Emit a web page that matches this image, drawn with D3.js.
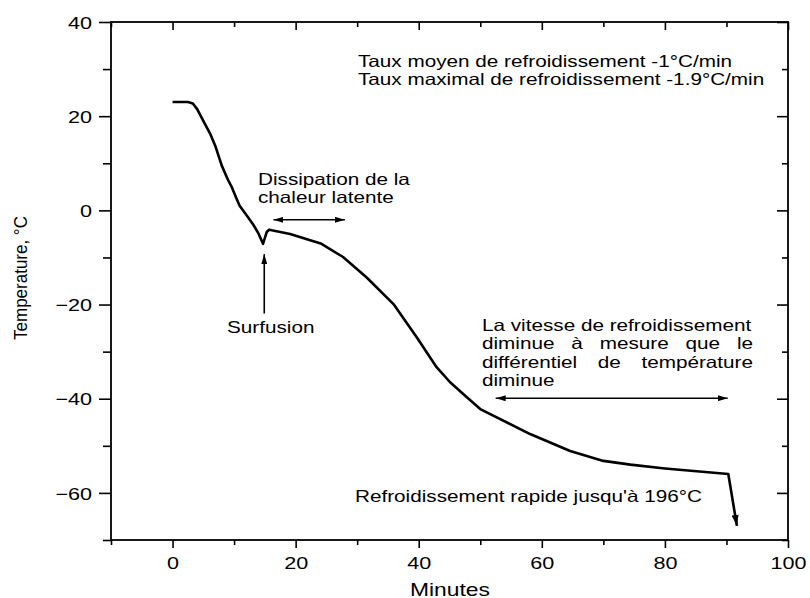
<!DOCTYPE html>
<html>
<head>
<meta charset="utf-8">
<script src="https://cdn.jsdelivr.net/npm/d3@7"></script>
<style>
  html, body { margin: 0; padding: 0; background: #fff; }
  svg { display: block; font-family: "Liberation Sans", Arial, sans-serif; }
</style>
</head>
<body>
<svg id="chart" width="810" height="598"></svg>
<script>
// ---- data ----
const minutes = [0, 2.5, 3.3, 4, 5, 6.1, 7, 8, 9, 9.6, 10.3, 10.9, 12, 13.1, 14, 14.7, 15.3, 15.7, 19.1, 24.2, 27.7, 31.5, 35.9, 39.7, 42.9, 45.1, 47.5, 50, 58.1, 64.6, 70, 74.4, 80, 90.3, 91.7];
const temperature = [23, 23, 22.7, 21.5, 19, 16.3, 13.5, 9.5, 6.5, 5, 2.8, 1, -1, -3, -5, -7.1, -4.6, -4.1, -5, -7.1, -9.9, -14.2, -19.9, -27, -33.3, -36.5, -39.3, -42.2, -47.5, -51.1, -53.2, -54, -54.8, -56, -67];
const xMajorTicks = [0, 20, 40, 60, 80, 100];
const xMinorTicks = [-10, 10, 30, 50, 70, 90];
const yMajorTicks = [-60, -40, -20, 0, 20, 40];
const yMinorTicks = [-70, -50, -30, -10, 10, 30];
const xLabel = "Minutes";
const yLabel = "Temperature, °C";
const noteTop = ["Taux moyen de refroidissement -1°C/min", "Taux maximal de refroidissement -1.9°C/min"];
const noteDissipation = ["Dissipation de la", "chaleur latente"];
const noteSurfusion = "Surfusion";
const noteVitesse = ["La vitesse de refroidissement", "diminue à mesure que le", "différentiel de température", "diminue"];
const noteRapide = "Refroidissement rapide jusqu'à 196°C";

// ---- layout ----
const svg = d3.select("#chart");
const L = 111, R = 788, T = 22, B = 540;
const x = d3.scaleLinear().domain([-10, 100]).range([L, R]);
const y = d3.scaleLinear().domain([-70, 40]).range([B, T]);
const SX = 1.27; // horizontal text stretch of the reference

svg.append("rect").attr("width", 810).attr("height", 598).attr("fill", "#fff");

// markers
const defs = svg.append("defs");
function marker(id, len, wid) {
  defs.append("marker").attr("id", id)
    .attr("markerUnits", "userSpaceOnUse")
    .attr("viewBox", `0 0 ${len} ${wid}`)
    .attr("refX", len).attr("refY", wid / 2)
    .attr("markerWidth", len).attr("markerHeight", wid)
    .attr("orient", "auto-start-reverse")
    .append("path").attr("d", `M0,0 L${len},${wid / 2} L0,${wid} Z`).attr("fill", "#000");
}
marker("ah", 10, 6);
marker("ahBig", 11, 7);

// axes
function styleAxis(g) {
  g.select(".domain").remove();
  g.selectAll("line").attr("stroke", "#000").attr("stroke-width", 1.6);
}
svg.append("g").attr("transform", `translate(${L},0)`)
  .call(d3.axisLeft(y).tickValues(yMajorTicks).tickSize(12).tickFormat(d3.format("d")))
  .call(styleAxis)
  .call(g => g.selectAll("text").attr("font-size", 17).attr("fill", "#000")
    .attr("x", -19 / SX).attr("dy", "0.36em").attr("transform", `scale(${SX},1)`)
    .attr("font-family", "Liberation Sans, Arial, sans-serif"));
svg.append("g").attr("transform", `translate(${L},0)`)
  .call(d3.axisLeft(y).tickValues(yMinorTicks).tickSize(8).tickFormat(""))
  .call(styleAxis);
svg.append("g").attr("transform", `translate(${R},0)`)
  .call(d3.axisLeft(y).tickValues(yMajorTicks).tickSize(11).tickFormat(""))
  .call(styleAxis);
svg.append("g").attr("transform", `translate(${R},0)`)
  .call(d3.axisLeft(y).tickValues(yMinorTicks).tickSize(6).tickFormat(""))
  .call(styleAxis);
svg.append("g").attr("transform", `translate(0,${B})`)
  .call(d3.axisBottom(x).tickValues(xMajorTicks).tickSize(8).tickFormat(d3.format("d")))
  .call(styleAxis)
  .call(g => g.selectAll("text").attr("font-size", 17).attr("fill", "#000")
    .attr("y", 29).attr("dy", 0).attr("transform", `scale(${SX},1)`)
    .attr("font-family", "Liberation Sans, Arial, sans-serif"));
svg.append("g").attr("transform", `translate(0,${B})`)
  .call(d3.axisBottom(x).tickValues(xMinorTicks).tickSize(5).tickFormat(""))
  .call(styleAxis);
svg.append("g").attr("transform", `translate(0,${T})`)
  .call(d3.axisBottom(x).tickValues(xMajorTicks).tickSize(8).tickFormat(""))
  .call(styleAxis);
svg.append("g").attr("transform", `translate(0,${T})`)
  .call(d3.axisBottom(x).tickValues(xMinorTicks).tickSize(5).tickFormat(""))
  .call(styleAxis);

// frame
svg.append("rect").attr("x", L).attr("y", T).attr("width", R - L).attr("height", B - T)
  .attr("fill", "none").attr("stroke", "#000").attr("stroke-width", 1.8);

// text helper
function label(str, px, py, size, anchor, opts = {}) {
  const g = svg.append("g").attr("transform", `translate(${px},${py}) scale(${opts.sx || SX},1)` + (opts.rotate ? ` rotate(${opts.rotate})` : ""));
  const t = g.append("text").attr("font-size", size).attr("text-anchor", anchor || "start")
    .attr("fill", "#000").text(str);
  return t;
}
// justified line: words spread between px and px+width
function justified(str, px, py, size, width) {
  const g = svg.append("g").attr("transform", `translate(${px},${py}) scale(${SX},1)`);
  const words = str.split(" ");
  const nodes = words.map(w => g.append("text").attr("font-size", size).attr("fill", "#000").text(w));
  const widths = nodes.map(n => n.node().getComputedTextLength());
  const total = d3.sum(widths);
  const gap = (width / SX - total) / (words.length - 1);
  let cx = 0;
  nodes.forEach((n, i) => { n.attr("x", cx); cx += widths[i] + gap; });
}

// axis titles
label(xLabel, 450, 596, 18, "middle");
label(yLabel, 27, 278, 17, "middle", { rotate: -90, sx: 1.12 });

// curve
const pts = minutes.map((m, i) => [m, temperature[i]]);
svg.append("path").datum(pts)
  .attr("d", d3.line().x(d => x(d[0])).y(d => y(d[1])))
  .attr("fill", "none").attr("stroke", "#000").attr("stroke-width", 2.6)
  .attr("stroke-linejoin", "round").attr("marker-end", "url(#ahBig)");

// annotation arrows
function arrow(x1, y1, x2, y2, both) {
  const l = svg.append("line")
    .attr("x1", x(x1)).attr("y1", y(y1)).attr("x2", x(x2)).attr("y2", y(y2))
    .attr("stroke", "#000").attr("stroke-width", 1.6).attr("marker-end", "url(#ah)");
  if (both) l.attr("marker-start", "url(#ah)");
}
arrow(16.4, -2.0, 28.0, -2.0, true);
arrow(14.9, -21.9, 14.9, -9.3, false);
arrow(52.5, -39.9, 90.2, -39.9, true);

// annotation texts
const FS = 16.3;
label(noteTop[0], 358, 67, FS, "start");
label(noteTop[1], 358, 85, FS, "start");
label(noteDissipation[0], 258, 184.5, FS, "start");
label(noteDissipation[1], 258, 202.5, FS, "start");
label(noteSurfusion, 227, 332.5, FS, "start");
label(noteVitesse[0], 482, 330.7, FS, "start");
justified(noteVitesse[1], 482, 349.2, FS, 271);
justified(noteVitesse[2], 482, 367.5, FS, 271);
label(noteVitesse[3], 482, 385.5, FS, "start");
label(noteRapide, 355, 502, FS, "start");
</script>
</body>
</html>
